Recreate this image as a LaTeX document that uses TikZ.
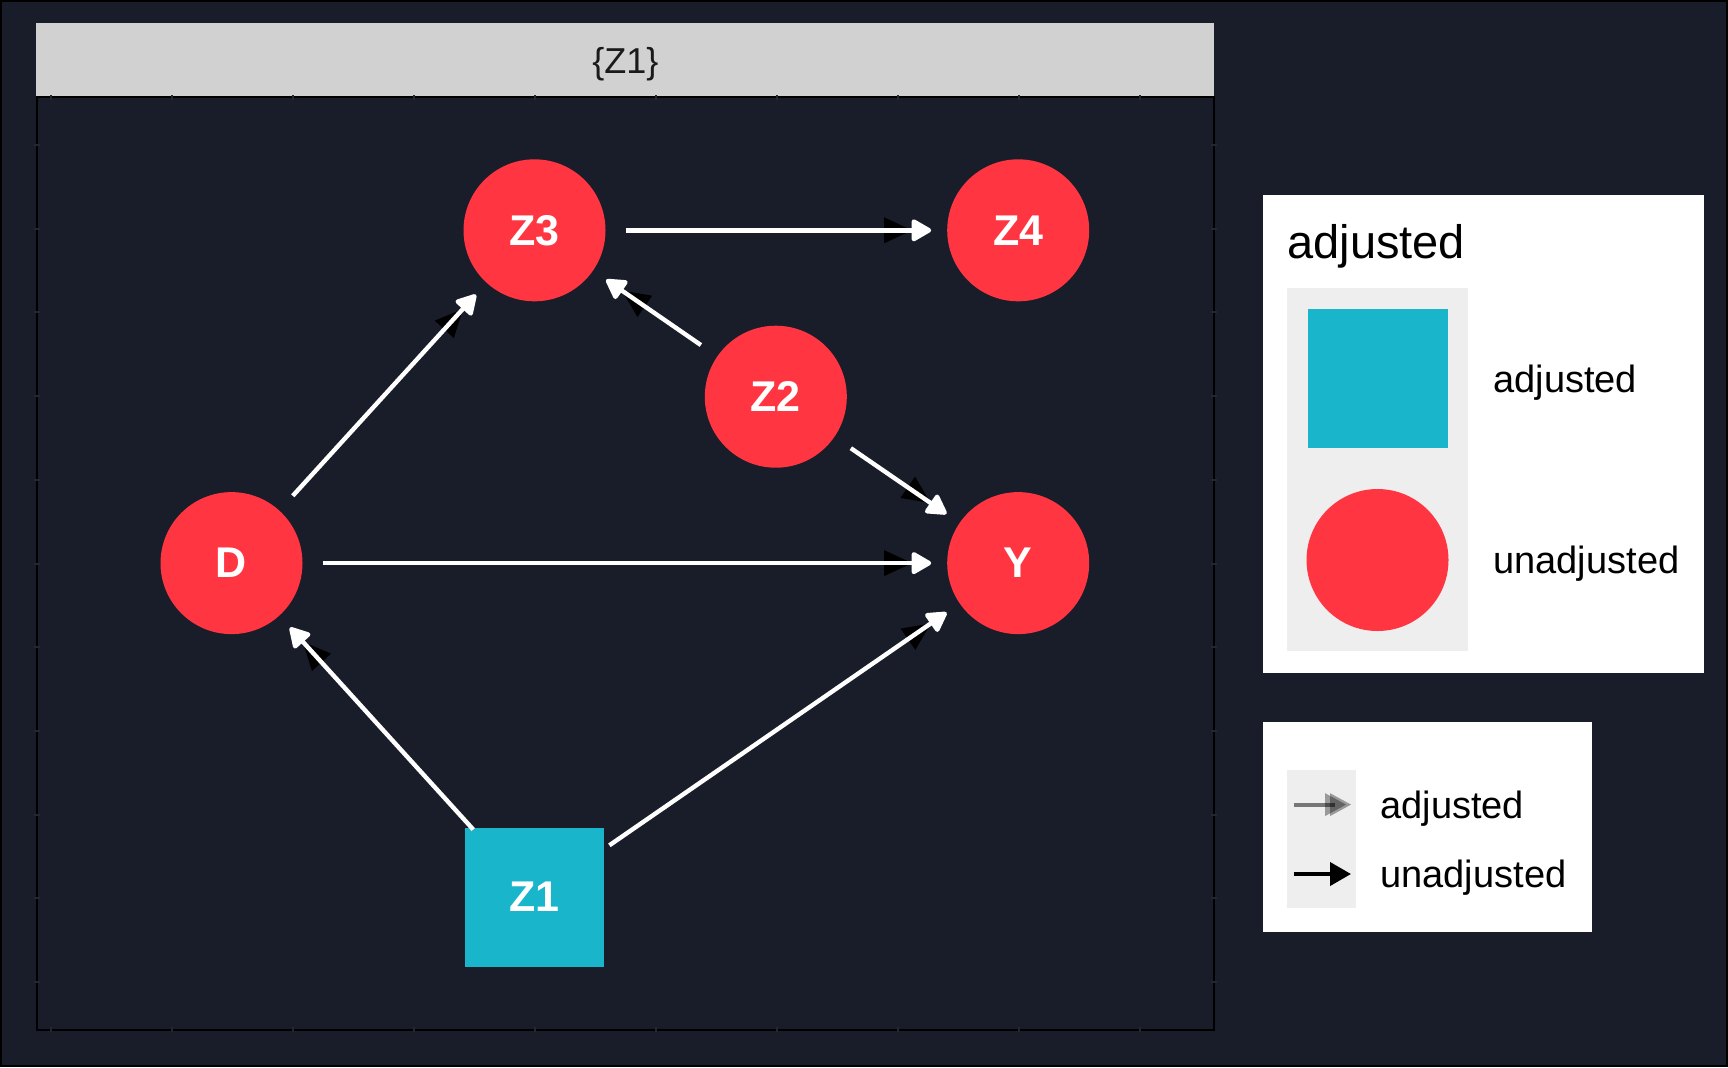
\documentclass[tikz,border=0pt]{standalone}
\usepackage{fontspec}
\setmainfont{Liberation Sans}
\usetikzlibrary{arrows.meta}
\definecolor{bgnavy}{HTML}{181D29}
\definecolor{nodered}{HTML}{FF3641}
\definecolor{adjcyan}{HTML}{19B5CB}
\definecolor{stripgray}{HTML}{D1D1D1}
\definecolor{keygray}{HTML}{EEEEEE}
\definecolor{tickcol}{HTML}{212736}
\definecolor{striptext}{HTML}{1A1A1A}
\tikzset{
  circnode/.style={circle, fill=nodered, minimum size=71pt, inner sep=0pt, text=white, font=\bfseries\fontsize{21.5}{22}\selectfont},
  sqnode/.style={rectangle, fill=adjcyan, minimum size=69.5pt, inner sep=0pt, text=white, font=\bfseries\fontsize{21.5}{22}\selectfont},
  edgeline/.style={white, line width=2.2pt, shorten <=45.5pt, shorten >=43.5pt, -{Triangle[length=11pt,width=12pt,round]}},
  shadowline/.style={black, line width=1.6pt, shorten <=45.5pt, shorten >=53pt, -{Triangle[length=14pt,width=12.5pt]}},
  legtext/.style={anchor=base west, inner sep=0pt, text=black, font=\fontsize{19}{20}\selectfont},
  tickmark/.style={tickcol, line width=1pt}
}
\begin{document}
\begin{tikzpicture}[x=0.5pt,y=-0.5pt]
\useasboundingbox (0,0) rectangle (1728,1067);
\fill[bgnavy] (0,0) rectangle (1728,1067);
\draw[black, line width=1pt] (1,1) rectangle (1727,1066);

% strip
\fill[stripgray] (36,23) rectangle (1214,97);
\node[anchor=base, text=striptext, font=\fontsize{18}{20}\selectfont, inner sep=0pt] (striplabel) at (625.3,73.3) {\{Z1\}};

% panel border
\draw[black, line width=1.2pt] (37,97) rectangle (1214,1030);
\foreach \xx in {0,...,9} {
  \draw[tickmark] (51+121*\xx,95) -- (51+121*\xx,100);
  \draw[tickmark] (51+121*\xx,1027) -- (51+121*\xx,1032);
}
\foreach \yy in {0,...,10} {
  \draw[tickmark] (34,145+83.7*\yy) -- (40,145+83.7*\yy);
  \draw[tickmark] (1211,145+83.7*\yy) -- (1217,145+83.7*\yy);
}

% nodes
\node[circnode] (Z3) at (534.5,230.3) {Z3};
\node[circnode] (Z4) at (1018.2,230.3) {Z4};
\node[circnode] (Z2) at (775.8,396.7) {Z2};
\node[circnode] (D) at (231.5,563.1) {D};
\node[circnode] (Y) at (1018.2,563.1) {Y};
\node[sqnode] (Z1) at (534.5,897) {Z1};

% shadow heads
\draw[shadowline] (Z3.center) -- (Z4.center);
\draw[shadowline] (D.center) -- (Z3.center);
\draw[shadowline] (Z2.center) -- (Z3.center);
\draw[shadowline] (Z2.center) -- (Y.center);
\draw[shadowline] (D.center) -- (Y.center);
\draw[shadowline] (Z1.center) -- (D.center);
\draw[shadowline] (Z1.center) -- (Y.center);
% edges
\draw[edgeline] (Z3.center) -- (Z4.center);
\draw[edgeline] (D.center) -- (Z3.center);
\draw[edgeline] (Z2.center) -- (Z3.center);
\draw[edgeline] (Z2.center) -- (Y.center);
\draw[edgeline] (D.center) -- (Y.center);
\draw[edgeline] (Z1.center) -- (D.center);
\draw[edgeline] (Z1.center) -- (Y.center);

% legend 1
\fill[white] (1263,195) rectangle (1704,673);
\node[legtext, font=\fontsize{23.5}{24}\selectfont] (legtitle) at (1287,258.7) {adjusted};
\fill[keygray] (1287,288) rectangle (1468,651);
\fill[adjcyan] (1308,309) rectangle (1447.5,448);
\fill[nodered] (1377.5,560) circle [radius=35.5pt];
\node[legtext] (legadj) at (1493,392) {adjusted};
\node[legtext] (legunadj) at (1493,573.5) {unadjusted};

% legend 2
\fill[white] (1263,722.4) rectangle (1591.6,931.6);
\fill[keygray] (1287,770) rectangle (1355.6,907.6);
\coordinate (ga1) at (1293.6,804.6);
\coordinate (ga2) at (1351,804.6);
\coordinate (ba1) at (1293.6,874);
\coordinate (ba2) at (1351,874);
\draw[black, opacity=0.5, line width=2pt] (ga1) -- ([xshift=-8pt]ga2);
\fill[black, opacity=0.35] ([xshift=-10.5pt,yshift=5.75pt]ga2) -- (ga2) -- ([xshift=-10.5pt,yshift=-5.75pt]ga2) -- cycle;
\fill[black, opacity=0.35] ([xshift=-13pt,yshift=5.75pt]ga2) -- ([xshift=-2.5pt]ga2) -- ([xshift=-13pt,yshift=-5.75pt]ga2) -- cycle;
\draw[black, line width=2pt, -{Triangle[length=10.5pt,width=11.5pt]}] (ba1) -- (ba2);
\node[legtext] (leg2adj) at (1380,818) {adjusted};
\node[legtext] (leg2unadj) at (1380,887) {unadjusted};
\end{tikzpicture}
\end{document}
